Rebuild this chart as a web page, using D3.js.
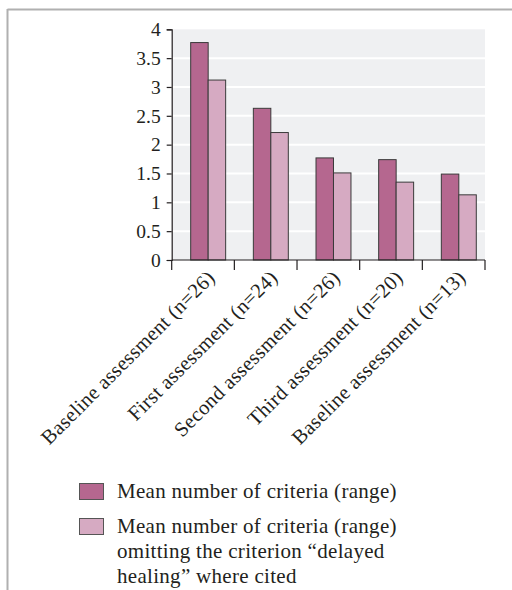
<!DOCTYPE html>
<html>
<head>
<meta charset="utf-8">
<script src="https://cdn.jsdelivr.net/npm/d3@7"></script>
<style>
  html, body { margin: 0; padding: 0; background: #fff; }
  svg { display: block; }
  text { font-family: "Liberation Serif", "Times New Roman", serif; fill: #231f20; }
</style>
</head>
<body>
<svg id="chart" width="512" height="590"></svg>
<script>
// Assessment rounds and their sample sizes
const categories = [
  "Baseline assessment (n=26)",
  "First assessment (n=24)",
  "Second assessment (n=26)",
  "Third assessment (n=20)",
  "Baseline assessment (n=13)"
];
// Mean number of criteria (range)
const meanCriteria = [3.77, 2.63, 1.77, 1.74, 1.49];
// Mean number omitting "delayed healing"
const meanOmitting = [3.12, 2.21, 1.51, 1.35, 1.13];
const yTicks = [0, 0.5, 1, 1.5, 2, 2.5, 3, 3.5, 4];
const seriesNames = [
  ["Mean number of criteria (range)"],
  ["Mean number of criteria (range)", "omitting the criterion \u201cdelayed", "healing\u201d where cited"]
];
const colors = ["#b5678f", "#d6aac2"];

const svg = d3.select("#chart");

// frame lines at top and left
svg.append("line").attr("x1", 7.5).attr("x2", 512).attr("y1", 9.5).attr("y2", 9.5)
  .attr("stroke", "#b0b0b0").attr("stroke-width", 2);
svg.append("line").attr("x1", 7.5).attr("x2", 7.5).attr("y1", 9).attr("y2", 590)
  .attr("stroke", "#b0b0b0").attr("stroke-width", 2);

const plot = { left: 171.7, right: 485, top: 29.3, bottom: 260 };

const x = d3.scaleBand().domain(categories).range([plot.left, plot.right]).padding(0);
const y = d3.scaleLinear().domain([0, 4]).range([plot.bottom, plot.top]);

// plot background
svg.append("rect")
  .attr("x", plot.left).attr("y", plot.top)
  .attr("width", plot.right - plot.left).attr("height", plot.bottom - plot.top)
  .attr("fill", "#eff0f2");

// white gridlines
svg.append("g").selectAll("line")
  .data(yTicks.filter(v => v > 0 && v < 4))
  .join("line")
  .attr("x1", plot.left).attr("x2", plot.right)
  .attr("y1", d => y(d)).attr("y2", d => y(d))
  .attr("stroke", "#ffffff").attr("stroke-width", 2);

// bars
const bw = x.bandwidth();
const barW = bw * 0.279;
const barOff = bw * 0.303;
const g = svg.append("g");
[meanCriteria, meanOmitting].forEach((vals, si) => {
  g.selectAll(null)
    .data(vals)
    .join("rect")
    .attr("x", (d, i) => x(categories[i]) + barOff + si * barW)
    .attr("y", d => y(d))
    .attr("width", barW)
    .attr("height", d => y(0) - y(d))
    .attr("fill", colors[si])
    .attr("stroke", "#3a3a3a")
    .attr("stroke-width", 1);
});

// y axis
const yAxis = svg.append("g")
  .attr("transform", `translate(${plot.left},0)`)
  .call(d3.axisLeft(y).tickValues(yTicks).tickSize(5).tickPadding(6)
    .tickFormat(d => String(d)));
yAxis.select(".domain").attr("stroke", "#231f20").attr("stroke-width", 1.2);
yAxis.selectAll(".tick line").attr("stroke", "#231f20").attr("stroke-width", 1.2);
yAxis.selectAll(".tick text").style("font-size", "19.5px")
  .style("font-family", '"Liberation Serif", serif').attr("fill", "#231f20");

// x axis: baseline with ticks at category boundaries
const xa = svg.append("g");
xa.append("line").attr("x1", plot.left).attr("x2", plot.right)
  .attr("y1", plot.bottom).attr("y2", plot.bottom)
  .attr("stroke", "#231f20").attr("stroke-width", 1.2);
const bounds = categories.map(c => x(c)).concat([x(categories[categories.length - 1]) + bw]);
xa.selectAll(".xt").data(bounds).join("line")
  .attr("x1", d => d).attr("x2", d => d)
  .attr("y1", plot.bottom).attr("y2", plot.bottom + 10)
  .attr("stroke", "#231f20").attr("stroke-width", 1.2);

// rotated category labels
xa.selectAll(".xl").data(categories).join("text")
  .attr("transform", d => `translate(${x(d) + bw / 2 + 13},${plot.bottom + 19}) rotate(-45)`)
  .attr("text-anchor", "end")
  .style("font-size", "20.5px")
  .style("letter-spacing", "0.3px")
  .text(d => d);

// legend
const leg = svg.append("g");
const legY = [483.5, 518.5];
seriesNames.forEach((lines, i) => {
  leg.append("rect")
    .attr("x", 79.5).attr("y", legY[i]).attr("width", 24).attr("height", 16)
    .attr("fill", colors[i]).attr("stroke", "#555").attr("stroke-width", 1);
  lines.forEach((t, j) => {
    leg.append("text")
      .attr("x", 117).attr("y", legY[i] + 14 + j * 25)
      .style("font-size", "21px")
      .style("letter-spacing", "0.3px")
      .text(t);
  });
});
</script>
</body>
</html>
